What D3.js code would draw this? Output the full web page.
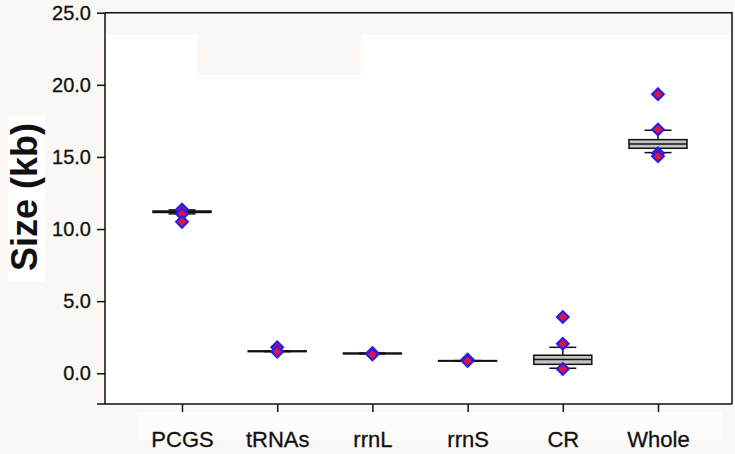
<!DOCTYPE html>
<html>
<head>
<meta charset="utf-8">
<script src="https://cdn.jsdelivr.net/npm/d3@7"></script>
<style>
  body { margin: 0; background: #faf7f4; }
  svg { display: block; font-family: Arial, "Liberation Sans", sans-serif; }
</style>
</head>
<body>
<svg id="chart"></svg>
<script>
// categories and box stats (kb)
const categories = ['PCGS', 'tRNAs', 'rrnL', 'rrnS', 'CR', 'Whole'];
const q1 = [11.15, 1.5, 1.35, 0.85, 0.62, 15.6];
const median = [11.2, 1.52, 1.37, 0.86, 0.95, 15.9];
const q3 = [11.25, 1.55, 1.4, 0.88, 1.25, 16.2];
const whiskerLow = [11.05, 1.5, 1.35, 0.85, 0.35, 15.3];
const whiskerHigh = [11.33, 1.55, 1.4, 0.88, 1.8, 16.85];
const points = [
  [11.35, 11.05, 10.5],
  [1.8, 1.5],
  [1.4, 1.3],
  [0.95, 0.85],
  [3.9, 2.05, 0.3],
  [19.35, 16.9, 15.25, 15.05]
];
const yTicks = [0, 5, 10, 15, 20, 25];

const width = 735;
const height = 454;
const m = { left: 105, right: 732, top: 12.7, bottom: 404 };

const svg = d3.select('#chart')
  .attr('width', width)
  .attr('height', height);

const x = d3.scalePoint().domain(categories).range([182, 658]);
const y = d3.scaleLinear().domain([-2.13, 25]).range([m.bottom, m.top]);

// background patches
svg.append('rect').attr('x', m.left).attr('y', m.top).attr('width', m.right - m.left).attr('height', m.bottom - m.top).attr('fill', '#fff');
svg.append('rect').attr('x', m.left).attr('y', m.top).attr('width', m.right - m.left).attr('height', 22).attr('fill', '#faf7f4');
svg.append('rect').attr('x', 197).attr('y', m.top).attr('width', 164).attr('height', 62).attr('fill', '#faf7f4');
svg.append('rect').attr('x', 8).attr('y', 116).attr('width', 37).attr('height', 166).attr('fill', '#fff');
svg.append('rect').attr('x', 137).attr('y', 412).attr('width', 585).attr('height', 28).attr('fill', '#fdfcfb');

// frame
svg.append('path')
  .attr('d', `M${m.left},${m.top}H${m.right}V${m.bottom}M${m.left},${m.top}V${m.bottom}M97,${m.bottom}H${m.right}`)
  .attr('fill', 'none')
  .attr('stroke', '#111')
  .attr('stroke-width', 1.5);

// y axis
const yAxis = svg.append('g')
  .attr('transform', `translate(${m.left},0)`)
  .call(d3.axisLeft(y).tickValues(yTicks).tickFormat(d3.format('.1f')).tickSize(8).tickPadding(6));
yAxis.select('.domain').remove();
yAxis.selectAll('line').attr('stroke', '#111').attr('stroke-width', 1.5);
yAxis.selectAll('text').attr('font-size', 20).attr('fill', '#111')
  .attr('stroke', '#111').attr('stroke-width', 0.3);

// x axis
const xAxis = svg.append('g')
  .attr('transform', `translate(0,${m.bottom})`)
  .call(d3.axisBottom(x).tickSize(8).tickPadding(19));
xAxis.select('.domain').remove();
xAxis.selectAll('line').attr('stroke', '#111').attr('stroke-width', 1.5);
xAxis.selectAll('text').attr('font-size', 22).attr('fill', '#111')
  .attr('stroke', '#111').attr('stroke-width', 0.3);

// y title
svg.append('text')
  .attr('transform', 'translate(37,197) rotate(-90)')
  .attr('text-anchor', 'middle')
  .attr('font-size', 36)
  .attr('font-weight', 'bold')
  .attr('fill', '#111')
  .text('Size (kb)');

// boxes
const boxW = 58, capW = 27;
const groups = svg.append('g')
  .selectAll('g')
  .data(categories)
  .join('g')
  .attr('transform', d => `translate(${x(d)},0)`);

groups.append('line')
  .attr('y1', (d, i) => y(whiskerLow[i]))
  .attr('y2', (d, i) => y(whiskerHigh[i]))
  .attr('stroke', '#111').attr('stroke-width', 1.5);

groups.selectAll('.cap')
  .data((d, i) => [whiskerLow[i], whiskerHigh[i]])
  .join('line')
  .attr('class', 'cap')
  .attr('x1', -capW / 2).attr('x2', capW / 2)
  .attr('y1', d => y(d)).attr('y2', d => y(d))
  .attr('stroke', '#111').attr('stroke-width', 1.5);

groups.append('rect')
  .attr('x', -boxW / 2)
  .attr('width', boxW)
  .attr('y', (d, i) => y(q3[i]))
  .attr('height', (d, i) => Math.max(0.5, y(q1[i]) - y(q3[i])))
  .attr('fill', '#c4c4c4')
  .attr('stroke', '#111')
  .attr('stroke-width', 1.5);

groups.append('line')
  .attr('x1', -boxW / 2).attr('x2', boxW / 2)
  .attr('y1', (d, i) => y(median[i]))
  .attr('y2', (d, i) => y(median[i]))
  .attr('stroke', '#111').attr('stroke-width', 1.5);

// points
const diamond = d3.symbol().type(d3.symbolDiamond2).size(85);
groups.selectAll('.pt')
  .data((d, i) => points[i])
  .join('path')
  .attr('class', 'pt')
  .attr('d', diamond)
  .attr('transform', d => `translate(0,${y(d)})`)
  .attr('fill', '#e8103c')
  .attr('stroke', '#2a1ee6')
  .attr('stroke-width', 2.2);
</script>
</body>
</html>
